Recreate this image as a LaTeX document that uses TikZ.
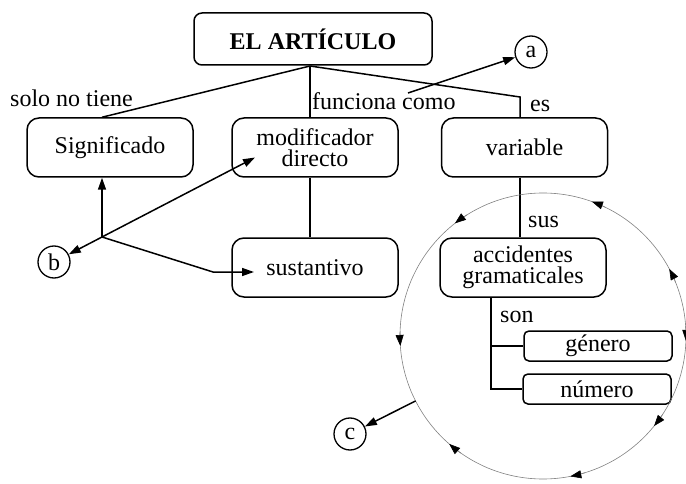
\documentclass[tikz,border=0pt]{standalone}
\usepackage{fontspec}
\setmainfont{Liberation Serif}
\usetikzlibrary{arrows.meta}
\begin{document}
\begin{tikzpicture}[x=1pt,y=-1pt,
    every node/.style={font=\fontsize{24}{21.5}\selectfont},
    box/.style={draw,line width=1.5pt,rounded corners=12pt,minimum width=166pt,minimum height=59pt,align=center,inner sep=0pt},
    tag/.style={draw,line width=1.5pt,rounded corners=5pt,minimum width=148pt,minimum height=30pt,inner sep=0pt},
    letter/.style={draw,circle,line width=1.3pt,minimum size=32pt,inner sep=0pt},
    word/.style={anchor=base west,inner sep=0pt},
    link/.style={line width=1.5pt},
    ring/.style={gray,line width=0.6pt},
    ringtip/.style={ring,-{Triangle[length=11pt,width=8pt,color=black]}},
    >={Triangle[length=12pt,width=8pt]}]
  \useasboundingbox (0,0) rectangle (686,484);

  \node[box,rounded corners=8pt,minimum width=238pt,minimum height=52pt,font=\fontsize{24}{21.5}\selectfont\bfseries] (art) at (313,39) {EL ARTÍCULO};
  \node[box] (sig) at (110,147.5) {Significado};
  \node[box] (mod) at (315,147.5) {modificador\\directo};
  \node[box] (var) at (524.5,147.5) {variable};
  \node[box] (sust) at (315,267.5) {sustantivo};
  \node[box] (acc) at (523,267.5) {accidentes\\gramaticales};
  \node[tag] (gen) at (598,346) {género};
  \node[tag] (num) at (597,389) {número};

  \node[letter] (a) at (531,52) {a};
  \node[letter] (b) at (54,262) {b};
  \node[letter] (c) at (350,434) {c};

  \node[word] (solo) at (10,107) {solo no tiene};
  \node[word] (func) at (312,110) {funciona como};
  \node[word] (es) at (530,112) {es};
  \node[word] (sus) at (528,227) {sus};
  \node[word] (son) at (500,322) {son};

  \coordinate (hub) at (310,66);
  \coordinate (esbend) at (520,97);
  \coordinate (fork) at (102,237);
  \coordinate (kink) at (213,272);
  \coordinate (fc) at (408,93);
  \coordinate (split) at (491,297);
  \coordinate (ctr) at (543,336);

  \draw[link] (hub) -- ([xshift=-8pt]sig.north);
  \draw[link] (hub) -- (hub |- mod.north);
  \draw[link] (hub) -- (esbend) -- (esbend |- var.north);
  \draw[link,->] (fc) -- (a);
  \draw[link] (hub |- mod.south) -- (hub |- sust.north);

  \draw[link,->] (fork) -- (fork |- sig.south);
  \draw[link,->] (fork) -- (b);
  \draw[link,->] (fork) -- ([xshift=-60pt,yshift=-10pt]mod.center);
  \draw[link,->] (fork) -- (kink) -- (kink -| 254,0);

  \draw[link] (esbend |- var.south) -- (esbend |- acc.north);
  \draw[link] (split) -- (split |- num.west) -- (num.west);
  \draw[link] (split |- gen.west) -- (gen.west);

  \draw[ring] (ctr) circle (143);
  \foreach \a in {-28,-70,-128,-184}
    \draw[ringtip] ([shift={(\a+6:143)}]ctr) arc ({\a+6}:\a:143);
  \foreach \a in {2,39,79,131}
    \draw[ringtip] ([shift={(\a-6:143)}]ctr) arc ({\a-6}:\a:143);

  \draw[link,->] ([shift={(153:143)}]ctr) -- (c);
\end{tikzpicture}
\end{document}
